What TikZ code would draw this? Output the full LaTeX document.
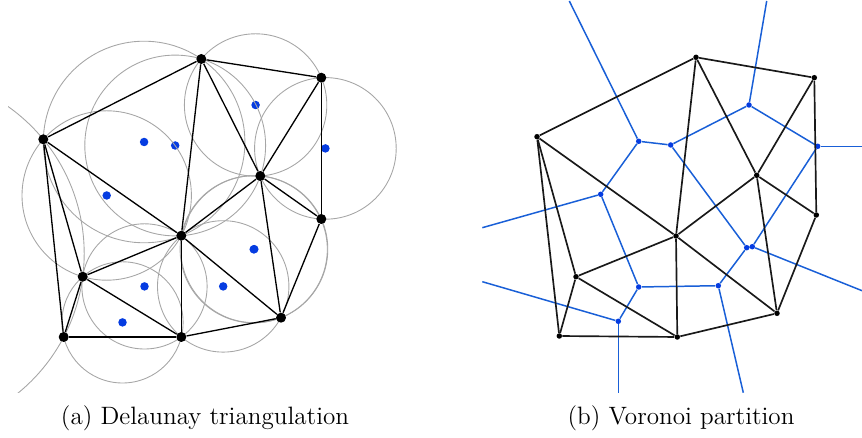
\documentclass[tikz,border=0pt]{standalone}
\usepackage{tikz}
\definecolor{dotblue}{RGB}{5,60,225}
\definecolor{vorblue}{RGB}{25,95,215}
\tikzstyle{sitedot} = [
    circle,
    fill=black,
    inner sep=0pt,
    minimum size=2mm
]
\tikzstyle{centerdot} = [
    circle,
    fill=dotblue,
    inner sep=0pt,
    minimum size=1.7mm
]
\tikzstyle{smallsite} = [
    circle,
    fill=black,
    inner sep=0pt,
    minimum size=1.1mm
]
\tikzstyle{smallcenter} = [
    circle,
    fill=dotblue,
    inner sep=0pt,
    minimum size=1.1mm
]
\tikzstyle{ccircle} = [draw=black!35, line width=0.5pt]
\tikzstyle{triedge} = [draw=black, line width=0.75pt]
\tikzstyle{thickedge} = [draw=black!90, line width=0.95pt]
\tikzstyle{voredge} = [draw=vorblue, line width=0.85pt]
\tikzstyle{caption} = [font=\fontsize{14.3}{17}\selectfont]

\begin{document}
\begin{tikzpicture}[x=0.02cm, y=-0.02cm]

\useasboundingbox (0,0) rectangle (862,438);

% (a) circumcentres
\node (oABF) [centerdot] at (144.1,142.0) {};
\node (oBDF) [centerdot] at (175.2,145.5) {};
\node (oBCD) [centerdot] at (255.6,105.0) {};
\node (oCDE) [centerdot] at (325.4,148.4) {};
\node (oDEJ) [centerdot] at (254.3,249.2) {};
\node (oDFJ) [centerdot] at (253.7,249.3) {};
\node (oFIJ) [centerdot] at (223.2,286.4) {};
\node (oGFI) [centerdot] at (144.5,286.4) {};
\node (oAGF) [centerdot] at (106.7,195.5) {};
\node (oGHI) [centerdot] at (122.5,322.4) {};
\coordinate (oAGH) at (-95.9,253.6);

% (a) circumcircles
\begin{scope}
\clip (8,0) rectangle (440,392.3);
\draw [ccircle] (oABF) circle (100.8);
\draw [ccircle] (oBDF) circle (90.4);
\draw [ccircle] (oBCD) circle (71.2);
\draw [ccircle] (oCDE) circle (70.8);
\draw [ccircle] (oDEJ) circle (73.5);
\draw [ccircle] (oDFJ) circle (73.6);
\draw [ccircle] (oFIJ) circle (65.7);
\draw [ccircle] (oGFI) circle (62.6);
\draw [ccircle] (oAGF) circle (84.7);
\draw [ccircle] (oAGH) circle (180.1);
\draw [ccircle] (oGHI) circle (60.6);
\end{scope}

% (a) sites
\node (A) [sitedot] at (43.3,139.3) {};
\node (B) [sitedot] at (201.3,59.0) {};
\node (C) [sitedot] at (321.3,77.7) {};
\node (D) [sitedot] at (260.3,176.0) {};
\node (E) [sitedot] at (321.3,219.0) {};
\node (F) [sitedot] at (181.3,235.7) {};
\node (G) [sitedot] at (82.7,276.7) {};
\node (H) [sitedot] at (63.7,337.0) {};
\node (I) [sitedot] at (181.3,337.0) {};
\node (J) [sitedot] at (281.0,317.7) {};

% (a) triangulation
\draw [triedge] (A) -- (B);
\draw [triedge] (B) -- (C);
\draw [triedge] (C) -- (E);
\draw [triedge] (C) -- (D);
\draw [triedge] (B) -- (D);
\draw [triedge] (B) -- (F);
\draw [triedge] (A) -- (F);
\draw [triedge] (A) -- (G);
\draw [triedge] (A) -- (H);
\draw [triedge] (G) -- (F);
\draw [triedge] (G) -- (I);
\draw [triedge] (G) -- (H);
\draw [triedge] (H) -- (I);
\draw [triedge] (F) -- (I);
\draw [triedge] (F) -- (D);
\draw [triedge] (F) -- (J);
\draw [triedge] (I) -- (J);
\draw [triedge] (D) -- (J);
\draw [triedge] (D) -- (E);
\draw [triedge] (E) -- (J);

% (b) voronoi vertices
\node (v1) [smallcenter] at (638.7,141.3) {};
\node (v2) [smallcenter] at (670.7,145.0) {};
\node (v3) [smallcenter] at (749.0,105.0) {};
\node (v4) [smallcenter] at (817.7,146.3) {};
\node (v5) [smallcenter] at (600.7,194.3) {};
\node (v6) [smallcenter] at (746.7,247.7) {};
\node (v7) [smallcenter] at (752.3,246.7) {};
\node (v8) [smallcenter] at (638.7,287.0) {};
\node (v9) [smallcenter] at (718.3,285.7) {};
\node (v10) [smallcenter] at (618.3,321.3) {};

% (b) open ends of the cells
\coordinate (r1) at (569.3,1.0);
\coordinate (r3) at (766.7,1.0);
\coordinate (r4) at (862.0,146.3);
\coordinate (r5) at (482.3,227.7);
\coordinate (r7) at (862.0,290.7);
\coordinate (r9) at (743.3,392.7);
\coordinate (r10a) at (482.3,281.7);
\coordinate (r10b) at (618.3,392.7);

% (b) voronoi edges
\draw [voredge] (v1) -- (r1);
\draw [voredge] (v1) -- (v2);
\draw [voredge] (v1) -- (v5);
\draw [voredge] (v2) -- (v3);
\draw [voredge] (v2) -- (v6);
\draw [voredge] (v3) -- (r3);
\draw [voredge] (v3) -- (v4);
\draw [voredge] (v4) -- (r4);
\draw [voredge] (v4) -- (v7);
\draw [voredge] (v5) -- (r5);
\draw [voredge] (v5) -- (v8);
\draw [voredge] (v6) -- (v7);
\draw [voredge] (v6) -- (v9);
\draw [voredge] (v7) -- (r7);
\draw [voredge] (v8) -- (v9);
\draw [voredge] (v8) -- (v10);
\draw [voredge] (v9) -- (r9);
\draw [voredge] (v10) -- (r10a);
\draw [voredge] (v10) -- (r10b);

% (b) sites
\node (A2) [smallsite] at (537.0,136.7) {};
\node (B2) [smallsite] at (696.0,57.3) {};
\node (C2) [smallsite] at (814.3,77.7) {};
\node (D2) [smallsite] at (756.7,175.3) {};
\node (E2) [smallsite] at (816.3,215.0) {};
\node (F2) [smallsite] at (676.0,236.0) {};
\node (G2) [smallsite] at (576.0,276.7) {};
\node (H2) [smallsite] at (559.3,336.0) {};
\node (I2) [smallsite] at (677.3,337.0) {};
\node (J2) [smallsite] at (777.0,313.3) {};

% (b) triangulation
\draw [thickedge] (A2) -- (B2);
\draw [thickedge] (B2) -- (C2);
\draw [thickedge] (C2) -- (E2);
\draw [thickedge] (C2) -- (D2);
\draw [thickedge] (B2) -- (D2);
\draw [thickedge] (B2) -- (F2);
\draw [thickedge] (A2) -- (F2);
\draw [thickedge] (A2) -- (G2);
\draw [thickedge] (A2) -- (H2);
\draw [thickedge] (G2) -- (F2);
\draw [thickedge] (G2) -- (I2);
\draw [thickedge] (G2) -- (H2);
\draw [thickedge] (H2) -- (I2);
\draw [thickedge] (F2) -- (I2);
\draw [thickedge] (F2) -- (D2);
\draw [thickedge] (F2) -- (J2);
\draw [thickedge] (I2) -- (J2);
\draw [thickedge] (D2) -- (J2);
\draw [thickedge] (D2) -- (E2);
\draw [thickedge] (E2) -- (J2);

% captions
\node (capa) [caption] at (205,418) {(a) Delaunay triangulation};
\node (capb) [caption] at (681,418) {(b) Voronoi partition};

\end{tikzpicture}
\end{document}
